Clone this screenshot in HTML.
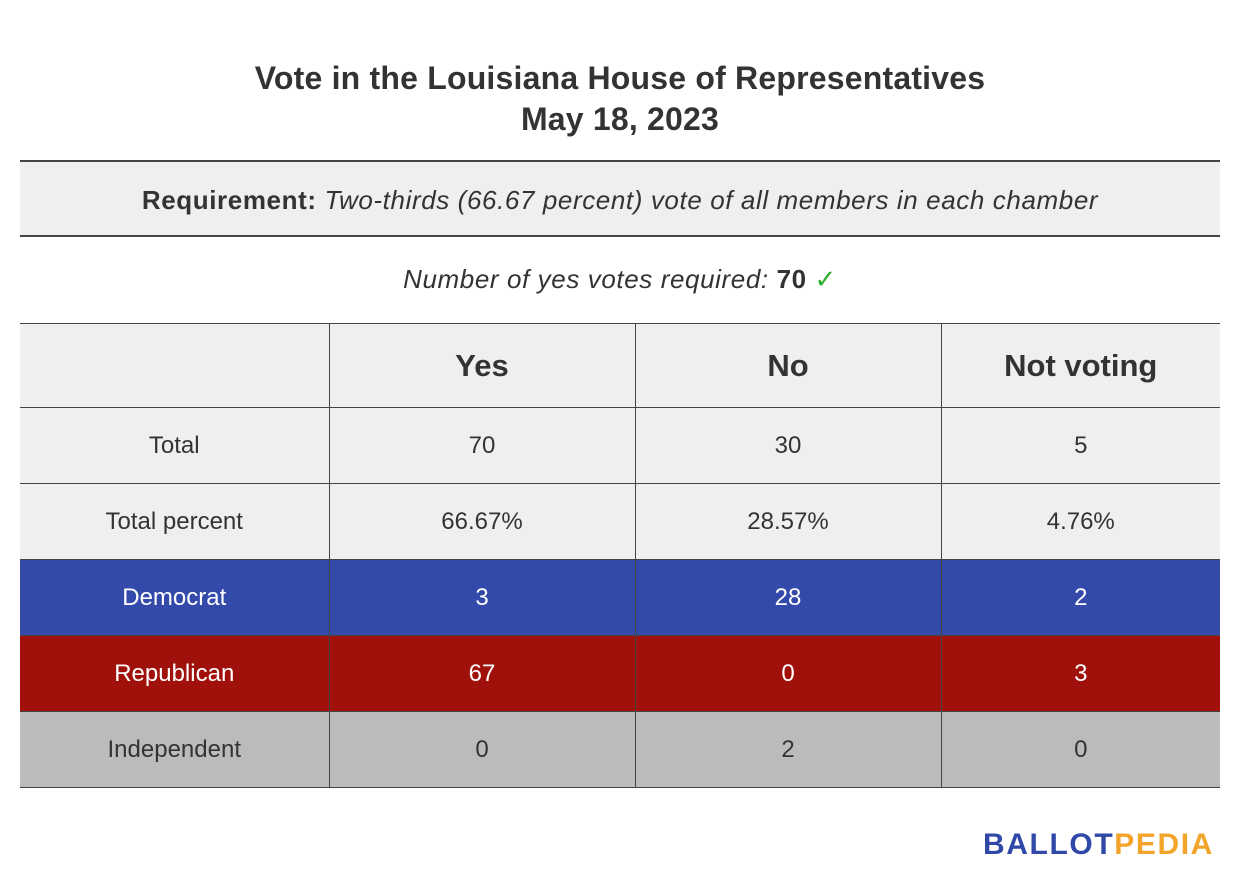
<!DOCTYPE html>
<html><head><meta charset="utf-8"><style>
body{margin:0;width:1240px;height:890px;background:#fff;font-family:"Liberation Sans",sans-serif;color:#333;position:relative;overflow:hidden}
.abs{position:absolute}
.title{left:0;width:1240px;text-align:center;font-size:32px;font-weight:bold;color:#333;letter-spacing:0.2px}
table{position:absolute;left:20px;top:323px;width:1200px;border-collapse:collapse;table-layout:fixed}
td{height:75px;text-align:center;font-size:24px;border:1.5px solid #444;padding:0}
tr td:first-child{border-left:none}tr td:last-child{border-right:none}
.hd td{height:83px;background:#efefef;font-size:31px;font-weight:bold;color:#333}
.g td{background:#efefef}
.d td{background:#334aaa;color:#fff}
.r td{background:#a0110b;color:#fff}
.i td{background:#bbb}
</style></head><body>
<div class="abs title" style="top:60px">Vote in the Louisiana House of Representatives</div>
<div class="abs title" style="top:101px">May 18, 2023</div>
<div class="abs" style="left:20px;top:160px;width:1200px;height:77px;background:#efefef;border-top:2px solid #444;border-bottom:2px solid #444;box-sizing:border-box;text-align:center;line-height:76px;font-size:26px;letter-spacing:0.6px"><b>Requirement:</b> <i>Two-thirds (66.67 percent) vote of all members in each chamber</i></div>
<div class="abs" style="left:0;width:1240px;top:264px;text-align:center;font-size:26px;letter-spacing:0.6px"><i>Number of yes votes required:</i> <b>70</b> <span style="color:#2bb02b">✓</span></div>
<table>
<colgroup><col style="width:309px"><col style="width:306px"><col style="width:306px"><col style="width:279px"></colgroup>
<tr class="hd"><td></td><td>Yes</td><td>No</td><td>Not voting</td></tr>
<tr class="g"><td>Total</td><td>70</td><td>30</td><td>5</td></tr>
<tr class="g"><td>Total percent</td><td>66.67%</td><td>28.57%</td><td>4.76%</td></tr>
<tr class="d"><td>Democrat</td><td>3</td><td>28</td><td>2</td></tr>
<tr class="r"><td>Republican</td><td>67</td><td>0</td><td>3</td></tr>
<tr class="i"><td>Independent</td><td>0</td><td>2</td><td>0</td></tr>
</table>
<div class="abs" style="left:983px;top:828px;font-size:30px;font-weight:bold;letter-spacing:1.6px"><span style="color:#3049a8">BALLOT</span><span style="color:#f2a52a">PEDIA</span></div>
</body></html>
